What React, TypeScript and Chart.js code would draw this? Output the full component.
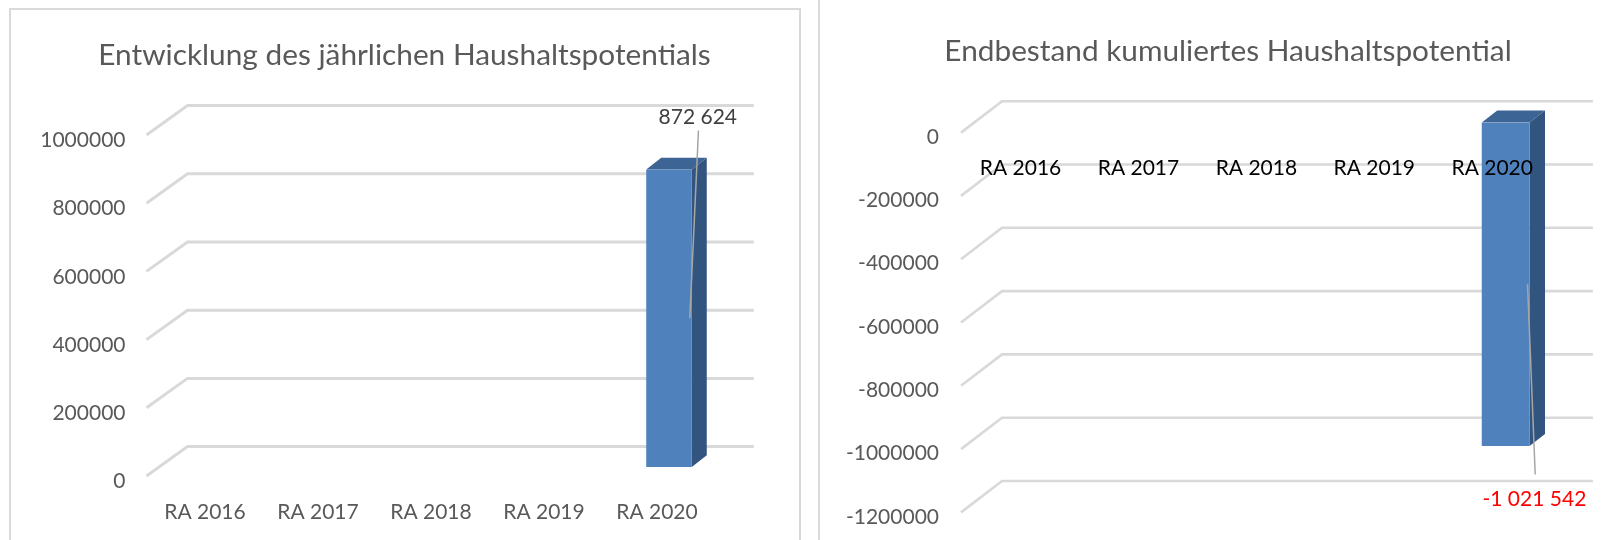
import React, { useEffect, useRef } from "react";
import { Chart, registerables } from "chart.js";

Chart.register(...registerables);

const categories = ["RA 2016", "RA 2017", "RA 2018", "RA 2019", "RA 2020"];
const yearlyValues = [null, null, null, null, 872624];
const cumulativeValues = [null, null, null, null, -1021542];
const yearlyTitle = "Entwicklung des jährlichen Haushaltspotentials";
const cumulativeTitle = "Endbestand kumuliertes Haushaltspotential";
const yearlyLabels = ["872 624"];
const cumulativeLabels = ["-1 021 542"];

const FONT = "Lato";
const GRID = "#d9d9d9";

const left = {
  title: yearlyTitle, values: yearlyValues, label: yearlyLabels[0], min: 0, max: 1000000,
  titleY: 55, top: 126, bottom: 73, axisW: 160.5, axisPad: 35, right: 83.5,
  tickColor: "#595959", labelColor: "#404040", tickDy: 14.5, catDx: -12, catPad: 33, catPos: "bottom" as any,
  gridBack: -20.4, gridFront: 9, leaderFrom: [6.7, -39], labelAt: [6, -52.4],
  barPct: 0.403, depth: [15, 11.7], gridW: 3,
};
const right = {
  title: cumulativeTitle, values: cumulativeValues, label: cumulativeLabels[0], min: -1200000, max: 0,
  titleY: 51, top: 122.6, bottom: 27.5, axisW: 132, axisPad: 36, right: 48.4,
  tickColor: "#595959", labelColor: "#ff0000", tickDy: 14.5, catDx: -13.4, catPad: 33, catPos: { y: 0 } as any,
  gridBack: -21.4, gridFront: 10, leaderFrom: [5.7, 28.5], labelAt: [4.9, 53],
  barPct: 0.405, depth: [15.5, 12], gridW: 2.6,
};

function build(canvas: HTMLCanvasElement, c: typeof left) {
  const TITLE = 29.8;
  const titleTop = c.titleY - TITLE * 0.6;
  const titleBottom = c.top - titleTop - TITLE * 1.2;
  const depthPlugin = {
    id: "depth",
    afterLayout(chart: any) {
      // centre the title on the whole canvas, not on the padded plot
      chart.titleBlock.left = 0;
      chart.titleBlock.right = chart.width;
    },
    beforeDatasetsDraw(chart: any) {
      const { ctx, chartArea: a, scales } = chart;
      ctx.save();
      ctx.strokeStyle = GRID;
      ctx.lineWidth = c.gridW;
      scales.y.ticks.forEach((t: any) => {
        const y = scales.y.getPixelForValue(t.value);
        ctx.beginPath();
        ctx.moveTo(a.left - 14, y + c.gridFront);
        ctx.lineTo(a.left + 27, y + c.gridBack);
        ctx.lineTo(a.right + 28.3, y + c.gridBack);
        ctx.stroke();
      });
      const [dx, dy] = c.depth;
      chart.getDatasetMeta(0).data.forEach((el: any, i: number) => {
        if (c.values[i] == null) return;
        const { x, y, base, width } = el.getProps(["x", "y", "base", "width"], true);
        const l = x - width / 2, r = x + width / 2;
        const t = Math.min(y, base), b = Math.max(y, base);
        ctx.fillStyle = "#3c6494";
        ctx.beginPath();
        ctx.moveTo(l, t); ctx.lineTo(l + dx, t - dy); ctx.lineTo(r + dx, t - dy); ctx.lineTo(r, t);
        ctx.closePath(); ctx.fill();
        ctx.fillStyle = "#32557f";
        ctx.beginPath();
        ctx.moveTo(r, t); ctx.lineTo(r + dx, t - dy); ctx.lineTo(r + dx, b - dy); ctx.lineTo(r, b);
        ctx.closePath(); ctx.fill();
      });
      ctx.restore();
    },
    afterDatasetsDraw(chart: any) {
      const { ctx } = chart;
      ctx.save();
      chart.getDatasetMeta(0).data.forEach((el: any, i: number) => {
        if (c.values[i] == null) return;
        const { x, y, base, width } = el.getProps(["x", "y", "base", "width"], true);
        const r = x + width / 2;
        const t = Math.min(y, base), b = Math.max(y, base);
        const anchorY = (t + b) / 2;
        const endY = c.leaderFrom[1] < 0 ? t + c.leaderFrom[1] : b + c.leaderFrom[1];
        const labelY = c.labelAt[1] < 0 ? t + c.labelAt[1] : b + c.labelAt[1];
        ctx.strokeStyle = "#a6a6a6";
        ctx.lineWidth = 1.5;
        ctx.beginPath();
        ctx.moveTo(r - 2, anchorY);
        ctx.lineTo(r + c.leaderFrom[0], endY);
        ctx.stroke();
        ctx.fillStyle = c.labelColor;
        ctx.font = `21px ${FONT}`;
        ctx.textAlign = "center";
        ctx.textBaseline = "middle";
        ctx.fillText(c.label, r + c.labelAt[0], labelY);
      });
      ctx.restore();
    },
  };
  return new Chart(canvas, {
    type: "bar",
    data: {
      labels: categories,
      datasets: [{
        data: c.values,
        backgroundColor: "#4f81bd",
        barPercentage: 1,
        categoryPercentage: c.barPct,
      }],
    },
    plugins: [depthPlugin],
    options: {
      animation: false,
      responsive: false,
      maintainAspectRatio: false,
      layout: { padding: { left: 0, right: c.right, top: 0, bottom: 0 } },
      plugins: {
        legend: { display: false },
        tooltip: { enabled: false },
        title: {
          display: true,
          text: c.title,
          color: "#595959",
          font: { family: FONT, size: TITLE, weight: "normal", lineHeight: 1.2 },
          padding: { top: titleTop, bottom: titleBottom },
        },
      },
      scales: {
        x: {
          type: "category",
          position: c.catPos,
          grid: { display: false, drawTicks: false },
          border: { display: false },
          ticks: {
            z: 1,
            color: c.catPos === "bottom" ? "#595959" : "#000000",
            font: { family: FONT, size: 21 },
            padding: c.catPad,
            labelOffset: c.catDx,
            maxRotation: 0,
            autoSkip: false,
          },
          afterFit: (s: any) => { s.height = c.bottom; },
        },
        y: {
          type: "linear",
          min: c.min,
          max: c.max,
          grid: { display: false, drawTicks: false },
          border: { display: false },
          ticks: {
            stepSize: 200000,
            color: c.tickColor,
            font: { family: FONT, size: 21 },
            padding: c.axisPad,
            labelOffset: c.tickDy,
            callback: (v: any) => String(v),
          },
          afterFit: (s: any) => { s.width = c.axisW; },
        },
      },
    } as any,
  });
}

export default function App() {
  const a = useRef<HTMLCanvasElement>(null);
  const b = useRef<HTMLCanvasElement>(null);
  useEffect(() => {
    const c1 = build(a.current!, left);
    const c2 = build(b.current!, right);
    return () => { c1.destroy(); c2.destroy(); };
  }, []);
  return (
    <div style={{ position: "fixed", left: 0, top: 0, width: 1613, height: 540, overflow: "hidden", background: "#fff" }}>
      <div style={{ position: "absolute", left: 9, top: 8, width: 788, height: 560, border: "2px solid #d9d9d9" }} />
      <div style={{ position: "absolute", left: 818, top: 0, width: 2, height: 540, background: "#d9d9d9" }} />
      <canvas ref={a} width={809} height={540} style={{ position: "absolute", left: 0, top: 0 }} />
      <canvas ref={b} width={770} height={551} style={{ position: "absolute", left: 843, top: 0 }} />
    </div>
  );
}
